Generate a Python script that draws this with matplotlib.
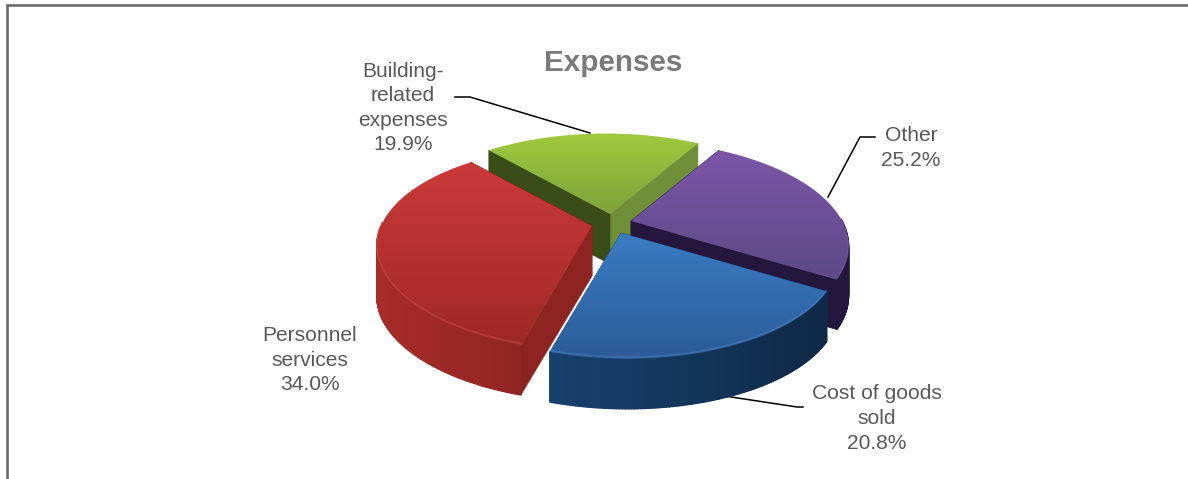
# -*- coding: utf-8 -*-
import numpy as np
import matplotlib
matplotlib.use("Agg")
import matplotlib.pyplot as plt
from matplotlib.collections import PolyCollection
from matplotlib.colors import LinearSegmentedColormap, to_rgb
from matplotlib.patches import Polygon

plt.rcParams['font.family'] = ['Liberation Sans', 'DejaVu Sans']

# clockwise from the top right, same order as the picture
categories = ["Other", "Cost of goods\nsold", "Personnel\nservices", "Building-\nrelated\nexpenses"]
shares = [25.2, 20.8, 34.0, 19.9]

# look of the fake 3D pie
start_angle = 59.
radius = 211.
tilt = 0.465
persp = 0.22
skew = 0.05
depth = 50.
apexes = [(631, 221), (621, 233), (592, 226), (610, 214)]
top_colors = [("#7d55a8", "#5c4a86"), ("#3a7cc4", "#2c5c98"), ("#cc3a3a", "#a02828"), ("#a0ca3e", "#7ca23a")]
wall_colors = [("#3a2560", "#24163c"), ("#1e5088", "#0e2744"), ("#a82c2a", "#5e1614"), ("#6f9038", "#5a7a2a")]
cut_colors = [("#2a1a44", "#24163c"), ("#1e5088", "#1e5088"), ("#8e2422", "#7a1e1c"), ("#3a4c18", "#6f9038")]
rim_colors = ["#8f6cba", "#5f97d4", "#dc6a66", "#b8d866"]
draw_order = [3, 0, 2, 1]

label_pos = [(911, 148), (877, 418.5), (310, 360), (403, 108)]
leaders = [
    [(875, 137), (860, 137), (828, 197)],
    [(803, 407), (797, 407), (718, 395)],
    [],
    [(455, 97), (470, 97), (590, 133)],
]


def project(theta, apex):
    # theta in degrees, returns screen pixels of the rim point
    t = np.radians(theta)
    s = 1. / (1. + persp * np.sin(t))
    dy = -tilt * radius * np.sin(t) * s
    return apex[0] + radius * np.cos(t) * s + skew * dy, apex[1] + dy


def mix(c1, c2, f):
    return tuple((1 - f) * np.array(to_rgb(c1)) + f * np.array(to_rgb(c2)))


fig = plt.figure(figsize=(11.88, 4.79), dpi=100)
ax = fig.add_axes([0, 0, 1, 1])
ax.set_xlim(0, 1188)
ax.set_ylim(479, 0)
ax.axis("off")

# frame, only top and left are in the picture
ax.plot([7, 7, 1188], [479, 5, 5], color="#6b6b6b", lw=1.9, solid_joinstyle="miter")

# angles come from the shares
edges = start_angle - np.cumsum([0] + shares) * 360. / sum(shares)

for i in draw_order:
    apex = apexes[i]
    layer = draw_order.index(i) * 3
    thetas = np.linspace(edges[i], edges[i + 1], 120)
    xs, ys = project(thetas, apex)
    front = np.sin(np.radians(thetas)) < 0.03

    # cut faces, the one further back first
    ends = sorted(zip((0, -1), cut_colors[i]), key=lambda t: ys[t[0]])
    for end, col in ends:
        quad = [apex, (xs[end], ys[end]), (xs[end], ys[end] + depth), (apex[0], apex[1] + depth)]
        ax.add_patch(Polygon(quad, closed=True, fc=col, ec=col, lw=0.5, zorder=2 + layer))

    # outer wall, small strips so the shade can change along the rim; the back never shows
    quads, cols = [], []
    for k in range(len(xs) - 1):
        if not front[k]:
            continue
        quads.append([(xs[k], ys[k]), (xs[k + 1], ys[k + 1]), (xs[k + 1], ys[k + 1] + depth), (xs[k], ys[k] + depth)])
        f = np.clip((xs[k] - 374) / (848 - 374.), 0, 1)
        cols.append(mix(wall_colors[i][0], wall_colors[i][1], f))
    if quads:
        ax.add_collection(PolyCollection(quads, facecolors=cols, edgecolors=cols, linewidths=1.0, zorder=3 + layer))

    # top face with a vertical gradient
    outline = np.vstack([[apex], np.column_stack([xs, ys])])
    face = Polygon(outline, closed=True, fc="none", ec="none", transform=ax.transData)
    ax.add_patch(face)
    cmap = LinearSegmentedColormap.from_list("face", top_colors[i])
    ymin, ymax = outline[:, 1].min(), outline[:, 1].max()
    xmin, xmax = outline[:, 0].min(), outline[:, 0].max()
    grad = np.linspace(0, 1, 256).reshape(-1, 1)
    im = ax.imshow(grad, cmap=cmap, extent=(xmin, xmax, ymax, ymin), aspect="auto", zorder=4 + layer)
    im.set_clip_path(face)

    # soft lighter rim on the front of the slice
    ax.plot(xs[front], ys[front] - 1.5, color=rim_colors[i], lw=1.2, alpha=0.3, zorder=4.5 + layer)

ax.set_xlim(0, 1188)
ax.set_ylim(479, 0)

for pts in leaders:
    if pts:
        ax.plot([p[0] for p in pts], [p[1] for p in pts], color="black", lw=1.1, zorder=1)

for name, share, pos in zip(categories, shares, label_pos):
    ax.text(pos[0], pos[1], "%s\n%.1f%%" % (name, share), ha="center", va="center",
            fontsize=15.1, color="#595959", linespacing=1.37, zorder=30)

ax.text(613, 63, "Expenses", ha="center", va="center", fontsize=21.3, fontweight="bold", color="#7a7a7a")

fig.savefig("out.png", dpi=100)
